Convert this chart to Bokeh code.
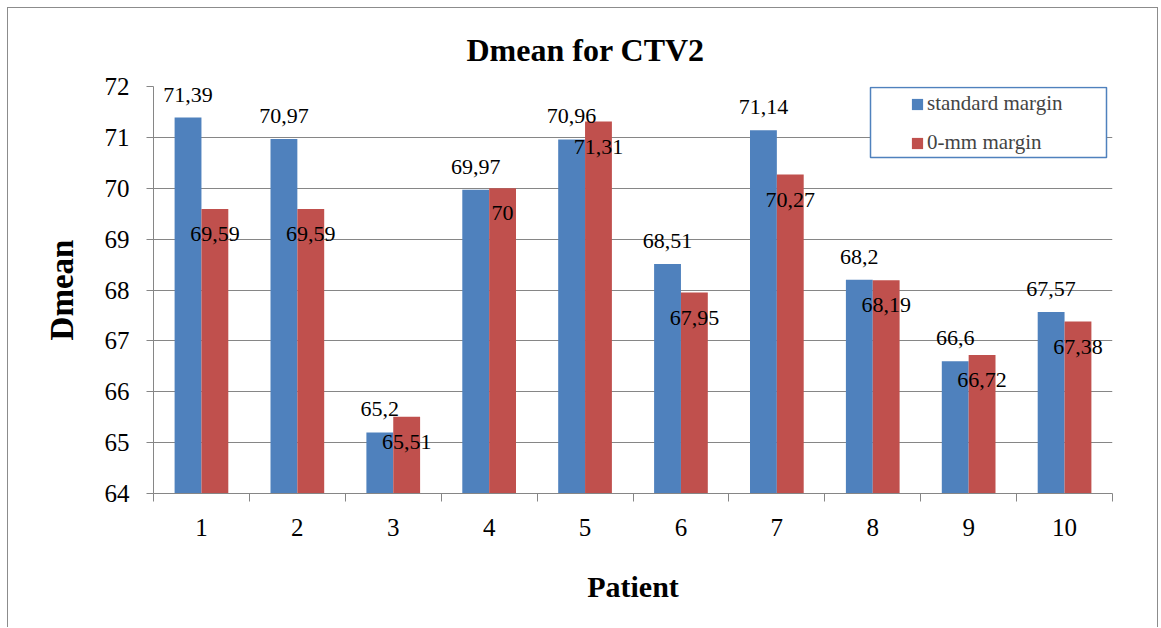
from bokeh.plotting import figure
from bokeh.models import (Range1d, FixedTicker, ColumnDataSource, LabelSet,
                          Legend, LegendItem, BoxAnnotation)
from bokeh.core.properties import value
from bokeh.embed import file_html
from bokeh.resources import INLINE

# --- data -------------------------------------------------------------
patients = [1, 2, 3, 4, 5, 6, 7, 8, 9, 10]
standard_margin = [71.39, 70.97, 65.2, 69.97, 70.96, 68.51, 71.14, 68.2, 66.6, 67.57]
zero_mm_margin = [69.59, 69.59, 65.51, 70, 71.31, 67.95, 70.27, 68.19, 66.72, 67.38]
y_ticks = [64, 65, 66, 67, 68, 69, 70, 71, 72]
series_names = ["standard margin", "0-mm margin"]

# --- style ------------------------------------------------------------
BLUE = "#4F81BD"
RED = "#C0504D"
GRID = "#868686"
FONT = "Liberation Serif"
BAR_W = 0.28
Y_MIN = 64


def fmt(v):
    return f"{v:g}".replace(".", ",")


src = ColumnDataSource(dict(
    x_std=[p - BAR_W / 2 for p in patients],
    x_zero=[p + BAR_W / 2 for p in patients],
    std=standard_margin,
    zero=zero_mm_margin,
    std_txt=[fmt(v) for v in standard_margin],
    zero_txt=[fmt(v) for v in zero_mm_margin],
))

p = figure(width=1151, height=620, output_backend="svg", toolbar_location=None,
           x_range=Range1d(0.5, 10.5), y_range=Range1d(Y_MIN, 72),
           min_border_left=145, min_border_right=47,
           min_border_top=78, min_border_bottom=135)
p.margin = (7, 0, 0, 7)
p.styles = {"border-left": "1px solid #8c8c8c", "border-top": "1px solid #8c8c8c",
            "border-right": "1px solid #8c8c8c"}
p.outline_line_color = None
p.background_fill_color = "white"
p.border_fill_color = "white"

# title
p.title.text = "Dmean for CTV2"
p.title.align = "left"
p.title.offset = 313
p.title.standoff = 37
p.title.text_font = FONT
p.title.text_font_style = "bold"
p.title.text_font_size = "32px"
p.title.text_color = "black"

r_std = p.vbar(x="x_std", top="std", bottom=Y_MIN, width=BAR_W, source=src,
               fill_color=BLUE, line_color=None)
r_zero = p.vbar(x="x_zero", top="zero", bottom=Y_MIN, width=BAR_W, source=src,
                fill_color=RED, line_color=None)

# grid
p.xgrid.visible = False
p.ygrid.ticker = FixedTicker(ticks=y_ticks)
p.ygrid.grid_line_color = GRID
p.ygrid.grid_line_width = 1

# y axis
p.yaxis.ticker = FixedTicker(ticks=y_ticks)
p.yaxis.axis_line_color = GRID
p.yaxis.major_tick_line_color = GRID
p.yaxis.major_tick_out = 7
p.yaxis.major_tick_in = 0
p.yaxis.minor_tick_line_color = None
p.yaxis.major_label_standoff = 17
p.yaxis.major_label_text_font = FONT
p.yaxis.major_label_text_font_size = "25px"
p.yaxis.major_label_text_color = "black"
p.yaxis.axis_label = "Dmean"
p.yaxis.axis_label_standoff = 22
p.yaxis.axis_label_text_font = FONT
p.yaxis.axis_label_text_font_style = "bold"
p.yaxis.axis_label_text_font_size = "33px"
p.yaxis.axis_label_text_color = "black"

# x axis: labels at patient centres, tick marks between patients
p.xaxis.ticker = FixedTicker(ticks=patients,
                             minor_ticks=[x - 0.5 for x in patients] + [patients[-1] + 0.5])
p.xaxis.axis_line_color = GRID
p.xaxis.major_tick_out = 0
p.xaxis.major_tick_in = 0
p.xaxis.minor_tick_line_color = GRID
p.xaxis.minor_tick_out = 8
p.xaxis.minor_tick_in = 0
p.xaxis.major_label_standoff = 17
p.xaxis.major_label_text_font = FONT
p.xaxis.major_label_text_font_size = "25px"
p.xaxis.major_label_text_color = "black"
p.xaxis.axis_label = "Patient"
p.xaxis.axis_label_standoff = 31
p.xaxis.axis_label_text_font = FONT
p.xaxis.axis_label_text_font_style = "bold"
p.xaxis.axis_label_text_font_size = "30px"
p.xaxis.axis_label_text_color = "black"

# value labels
p.add_layout(LabelSet(x="x_std", y="std", text="std_txt", source=src, y_offset=23,
                      text_align="center", text_baseline="middle",
                      text_font=value(FONT), text_font_size="22px", text_color="black"))
p.add_layout(LabelSet(x="x_zero", y="zero", text="zero_txt", source=src, y_offset=-25,
                      text_align="center", text_baseline="middle",
                      text_font=value(FONT), text_font_size="22px", text_color="black"))

# legend frame and entries
p.add_layout(BoxAnnotation(left=717, right=953, bottom=336, top=406,
                           left_units="screen", right_units="screen",
                           bottom_units="screen", top_units="screen",
                           fill_color="white", fill_alpha=1,
                           line_color=BLUE, line_alpha=1, line_width=1.5))
legend = Legend(items=[LegendItem(label=series_names[0], renderers=[r_std]),
                       LegendItem(label=series_names[1], renderers=[r_zero])],
                location=(757, 338), orientation="vertical",
                padding=0, margin=0, spacing=14,
                glyph_width=14, glyph_height=14, label_height=24, label_standoff=3,
                label_text_font=FONT, label_text_font_size="21px",
                border_line_color=None, background_fill_alpha=0)
p.add_layout(legend)

open("out.html", "w").write(file_html(p, INLINE))
